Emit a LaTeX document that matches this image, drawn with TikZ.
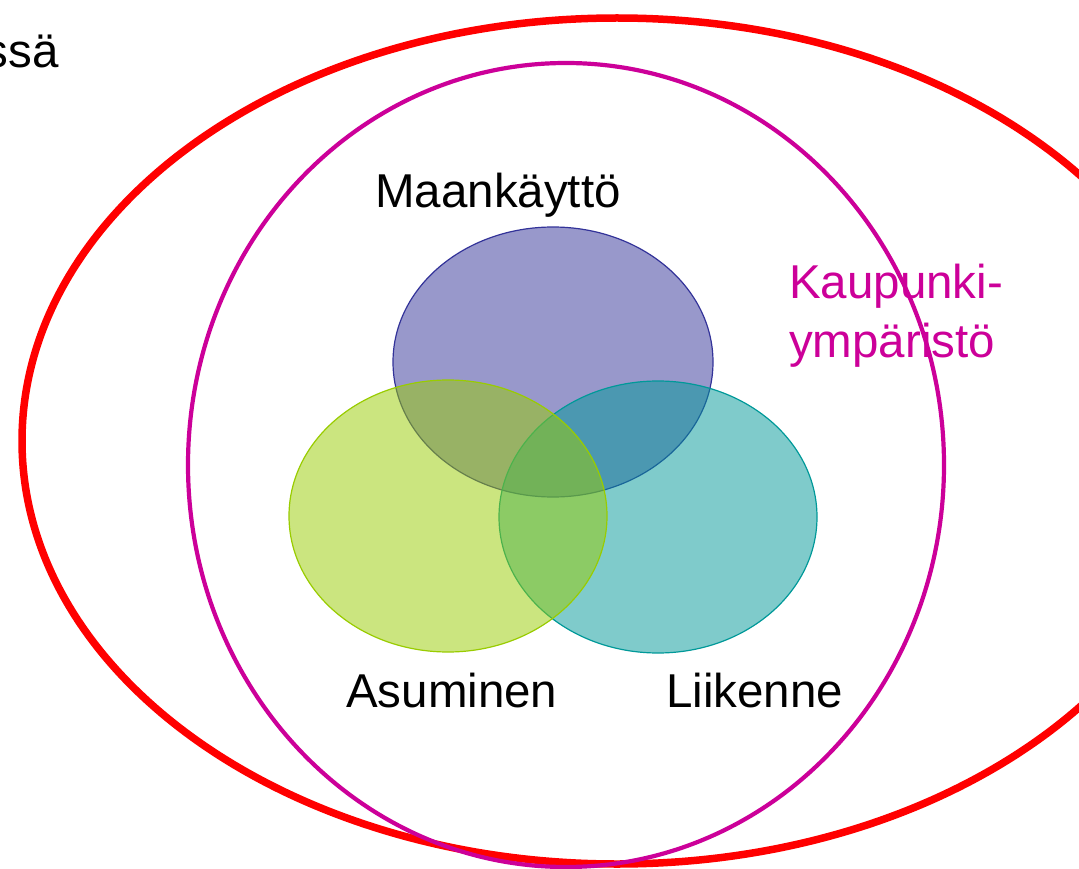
\documentclass[tikz,border=0pt]{standalone}
\usepackage{fontspec}
\setmainfont{Liberation Sans}
\definecolor{ringred}{RGB}{255,0,0}
\definecolor{ringmag}{RGB}{204,0,153}
\definecolor{vpurple}{RGB}{51,51,153}
\definecolor{vteal}{RGB}{0,153,153}
\definecolor{vgreen}{RGB}{153,204,0}
\tikzset{
  bigtext/.style={inner sep=0pt, font=\fontsize{47.5}{59}\selectfont},
  venn/.style={line width=1.2pt, fill opacity=0.5, draw opacity=1},
}
\begin{document}
\begin{tikzpicture}[x=1pt,y=-1pt]
\useasboundingbox (0,0) rectangle (1079,869);
\clip (0,0) rectangle (1079,869);
\fill[white] (0,0) rectangle (1079,869);
% outer rings
\draw[ringred, line width=7.5pt] (617,441) ellipse [x radius=595, y radius=423];
\draw[ringmag, line width=4.2pt] (566,465) ellipse [x radius=378, y radius=402];
% Venn circles
\draw[venn, draw=vpurple, fill=vpurple] (553,362) ellipse [x radius=160, y radius=135];
\draw[venn, draw=vteal, fill=vteal] (658,517) ellipse [x radius=159, y radius=136];
\draw[venn, draw=vgreen, fill=vgreen] (448,516) ellipse [x radius=159, y radius=136];
% labels
\node[bigtext, anchor=base east] (prev) at (59,68) {ssä};
\node[bigtext, anchor=base west] (maa) at (375,208) {Maankäyttö};
\node[bigtext, anchor=base west] (asu) at (346,707) {Asuminen};
\node[bigtext, anchor=base west] (lii) at (666,707) {Liikenne};
\node[bigtext, anchor=base west, align=left, text=ringmag] (kau) at (789,357) {Kaupunki-\\ympäristö};
\end{tikzpicture}
\end{document}
